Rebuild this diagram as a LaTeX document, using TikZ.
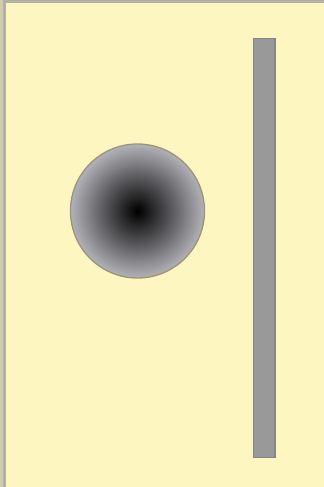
\documentclass[tikz,border=0pt]{standalone}
\usepackage{xcolor}
\definecolor{paper}{HTML}{FEF6C0}
\definecolor{frame}{HTML}{B4B0A4}
\definecolor{rod}{HTML}{999999}
\definecolor{rodedge}{HTML}{858585}
\definecolor{rim}{HTML}{9C9478}
\definecolor{glow}{HTML}{A4A4AC}

\begin{document}
\begin{tikzpicture}[x=0.75pt,y=-0.75pt]
  \useasboundingbox (0,0) rectangle (324,487);
  % background with a shaded frame at top and left
  \fill[paper] (0,0) rectangle (324,487);
  \fill[frame] (0,0) rectangle (324,3);
  \fill[frame!60!paper] (0,0) rectangle (3,487);
  \fill[frame] (3,0) rectangle (6,487);
  % the ball
  \shade[inner color=black,outer color=glow!85!white] (137.5,211) circle (67);
  \draw[rim,line width=1pt] (137.5,211) circle (67);
  % the rod
  \draw[rodedge,fill=rod,line width=0.8pt] (253.5,38.5) rectangle (275,457.5);
\end{tikzpicture}
\end{document}
